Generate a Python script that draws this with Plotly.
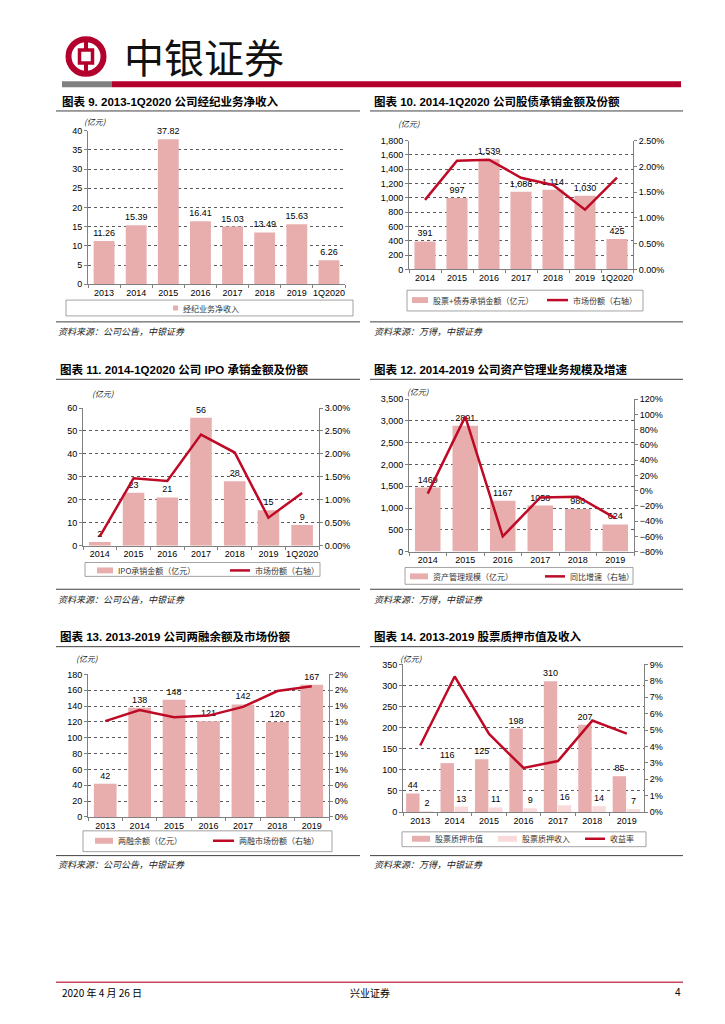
import plotly.graph_objects as go

# ---------------- data ----------------
c9_cats = ["2013", "2014", "2015", "2016", "2017", "2018", "2019", "1Q2020"]
c9_income = [11.26, 15.39, 37.82, 16.41, 15.03, 13.49, 15.63, 6.26]

c10_cats = ["2014", "2015", "2016", "2017", "2018", "2019", "1Q2020"]
c10_amount = [391, 997, 1539, 1086, 1114, 1030, 425]
c10_share = [0.0135, 0.0211, 0.0213, 0.0178, 0.0164, 0.0116, 0.0178]

c11_cats = ["2014", "2015", "2016", "2017", "2018", "2019", "1Q2020"]
c11_ipo = [1.6, 23.1, 21.0, 55.8, 28.1, 15.4, 9.0]
c11_share = [0.0020, 0.0147, 0.0141, 0.0242, 0.0203, 0.0061, 0.0115]

c12_cats = ["2014", "2015", "2016", "2017", "2018", "2019"]
c12_aum = [1469, 2891, 1167, 1058, 980, 624]
c12_growth = [-0.04, 0.97, -0.60, -0.09, -0.08, -0.36]

c13_cats = ["2013", "2014", "2015", "2016", "2017", "2018", "2019"]
c13_balance = [42, 138, 148, 121, 142, 120, 167]
c13_share = [0.0121, 0.0135, 0.0126, 0.0128, 0.0139, 0.0159, 0.0165]

c14_cats = ["2013", "2014", "2015", "2016", "2017", "2018", "2019"]
c14_value = [44, 116, 125, 198, 310, 207, 85]
c14_income = [2, 13, 11, 9, 16, 14, 7]
c14_yield = [0.0406, 0.0827, 0.0476, 0.0269, 0.0311, 0.0558, 0.0478]

titles = [
    "图表 9. 2013-1Q2020 公司经纪业务净收入",
    "图表 10. 2014-1Q2020 公司股债承销金额及份额",
    "图表 11. 2014-1Q2020 公司 IPO 承销金额及份额",
    "图表 12. 2014-2019 公司资产管理业务规模及增速",
    "图表 13. 2013-2019 公司两融余额及市场份额",
    "图表 14. 2013-2019 股票质押市值及收入",
]
sources = [
    "资料来源：公司公告，中银证券",
    "资料来源：万得，中银证券",
    "资料来源：公司公告，中银证券",
    "资料来源：万得，中银证券",
    "资料来源：公司公告，中银证券",
    "资料来源：万得，中银证券",
]

# ---------------- style ----------------
W, H = 725, 1024
def fx(x): return x / W
def fy(y): return 1 - y / H

FONT = "Liberation Sans, Arial, Noto Sans CJK SC, sans-serif"
CJK = "Noto Sans CJK SC, Liberation Sans, sans-serif"
BAR = "#E8AEAE"
BAR_LIGHT = "#F8DADA"
LINE = "#BE0A26"
AX = "#808080"
GRID = "#5a5a5a"
RED = "#B3002D"

fig = go.Figure()
layout = {}

def set_axes(i, box, yrange, ydtick, yfmt, y2=None):
    x0, x1, y0, y1 = box
    tf = dict(size=9, color="#000", family=FONT)
    layout[f"xaxis{i}"] = dict(domain=[fx(x0), fx(x1)], anchor=f"y{i}", type="category",
                               showline=True, linecolor=AX, linewidth=1, ticks="outside",
                               tickson="boundaries", ticklen=3, tickcolor=AX, tickfont=tf,
                               tickangle=0, showgrid=False, fixedrange=True)
    layout[f"yaxis{i}"] = dict(domain=[fy(y1), fy(y0)], anchor=f"x{i}", range=yrange,
                               dtick=ydtick, tick0=0, tickformat=yfmt, showline=True,
                               linecolor=AX, ticks="outside", ticklen=3, tickcolor=AX,
                               showgrid=True, gridcolor=GRID, griddash="dot", gridwidth=1,
                               zeroline=False, tickfont=tf, fixedrange=True)
    if y2:
        r, d, f = y2
        layout[f"yaxis{10 + i}"] = dict(overlaying=f"y{i}", side="right", anchor=f"x{i}",
                                        range=r, dtick=d, tick0=r[0], tickformat=f,
                                        showline=True, linecolor=AX, ticks="outside",
                                        ticklen=3, tickcolor=AX, showgrid=False,
                                        zeroline=False, tickfont=tf, fixedrange=True)

def bar(i, cats, vals, name, fmt, width, color=BAR, offset=None):
    kw = {}
    if offset is not None:
        kw["offset"] = offset
    fig.add_trace(go.Bar(x=cats, y=vals, name=name, xaxis=f"x{i}", yaxis=f"y{i}",
                         marker=dict(color=color, line=dict(width=0)), width=width,
                         texttemplate=fmt, textposition="outside", constraintext="none",
                         textfont=dict(size=9, color="#000", family=FONT), cliponaxis=False,
                         showlegend=False, **kw))

def line(i, cats, vals, name):
    fig.add_trace(go.Scatter(x=cats, y=vals, name=name, xaxis=f"x{i}", yaxis=f"y{10 + i}",
                             mode="lines", line=dict(color=LINE, width=2.5),
                             showlegend=False, cliponaxis=False))

# chart 9
set_axes(1, (88, 345, 127, 282), [0, 40], 5, "d")
bar(1, c9_cats, c9_income, "经纪业务净收入", "%{y:.2f}", 0.65)

# chart 10
set_axes(2, (409, 633, 137, 267), [0, 1800], 200, ",", ([0, 0.025], 0.005, ".2%"))
bar(2, c10_cats, c10_amount, "股票+债券承销金额（亿元）", "%{y:,}", 0.66)
line(2, c10_cats, c10_share, "市场份额（右轴）")

# chart 11
set_axes(3, (83, 319, 407, 546), [0, 60], 10, "d", ([0, 0.03], 0.005, ".2%"))
bar(3, c11_cats, c11_ipo, "IPO承销金额（亿元）", "%{y:.0f}", 0.64)
line(3, c11_cats, c11_share, "市场份额（右轴）")

# chart 12
set_axes(4, (409, 634, 398, 552), [0, 3500], 500, ",", ([-0.8, 1.2], 0.2, ".0%"))
bar(4, c12_cats, c12_aum, "资产管理规模（亿元）", "%{y:d}", 0.68)
line(4, c12_cats, c12_growth, "同比增速（右轴）")

# chart 13
set_axes(5, (88, 329, 676, 820), [0, 180], 20, "d", ([0, 0.018], 0.002, ".0%"))
bar(5, c13_cats, c13_balance, "两融余额（亿元）", "%{y:d}", 0.66)
line(5, c13_cats, c13_share, "两融市场份额（右轴）")

# chart 14
set_axes(6, (403, 644, 666, 815), [0, 350], 50, "d", ([0, 0.09], 0.01, ".0%"))
bar(6, c14_cats, c14_value, "股票质押市值", "%{y:d}", 0.39, offset=-0.41)
bar(6, c14_cats, c14_income, "股票质押收入", "%{y:d}", 0.39, color=BAR_LIGHT, offset=0.0)
line(6, c14_cats, c14_yield, "收益率")

# ---------------- shapes ----------------
shapes = []
def rect(x0, y0, x1, y1, fill=None, line_color=None, lw=0):
    shapes.append(dict(type="rect", xref="paper", yref="paper", x0=fx(x0), x1=fx(x1),
                       y0=fy(y0), y1=fy(y1), fillcolor=fill if fill else "rgba(0,0,0,0)",
                       line=dict(color=line_color if line_color else "rgba(0,0,0,0)", width=lw)))
def hline(x0, x1, y, color, lw):
    shapes.append(dict(type="line", xref="paper", yref="paper", x0=fx(x0), x1=fx(x1),
                       y0=fy(y), y1=fy(y), line=dict(color=color, width=lw)))

# logo
shapes.append(dict(type="circle", xref="paper", yref="paper", x0=fx(68.5), x1=fx(103.5),
                   y0=fy(69.5), y1=fy(34.5), line=dict(color=RED, width=6)))
rect(79.5, 45.5, 92.5, 58.5, line_color=RED, lw=3.5)
shapes.append(dict(type="line", xref="paper", yref="paper", x0=fx(86), x1=fx(86), y0=fy(34), y1=fy(45),
                   line=dict(color=RED, width=4)))
shapes.append(dict(type="line", xref="paper", yref="paper", x0=fx(86), x1=fx(86), y0=fy(59), y1=fy(70),
                   line=dict(color=RED, width=4)))
# header bar
rect(62, 77, 112, 83, fill="#808080")
rect(112, 77, 681, 83, fill=RED)

cols = [(56, 360), (370, 683)]
for y in (107, 378, 648):
    for a, b in cols:
        hline(a, b, y, "#404040", 1)
for y in (320, 590, 859):
    for a, b in cols:
        hline(a, b, y, "#404040", 1)

legend_boxes = [(66, 298, 353, 314), (407, 288, 643, 309), (85, 563, 320, 577),
                (405, 568, 633, 585), (83, 834, 332, 855), (402, 835, 646, 850)]
for (a, b, c, d) in legend_boxes:
    rect(a, b, c, d, line_color="#8c8c8c", lw=0.8)

hline(56, 683, 987, "#C8485E", 1.5)

# ---------------- annotations ----------------
ann = []
def text(x, y, s, size, xanchor="left", family=FONT, color="#000"):
    ann.append(dict(xref="paper", yref="paper", x=fx(x), y=fy(y), text=s, showarrow=False,
                    xanchor=xanchor, yanchor="middle", font=dict(size=size, family=family, color=color)))

# legend keys: (kind, x0, x1, y, label)
legend_keys = [
    ("bar", 173, 178, 306, "经纪业务净收入"),
    ("bar", 412, 428, 298, "股票+债券承销金额（亿元）"),
    ("line", 547, 568, 298, "市场份额（右轴）"),
    ("bar", 97, 113, 571, "IPO承销金额（亿元）"),
    ("line", 230, 250, 571, "市场份额（右轴）"),
    ("bar", 410, 428, 577, "资产管理规模（亿元）"),
    ("line", 545, 565, 577, "同比增速（右轴）"),
    ("bar", 95, 113, 844, "两融余额（亿元）"),
    ("line", 213, 234, 844, "两融市场份额（右轴）"),
    ("bar", 412, 430, 842, "股票质押市值"),
    ("light", 498, 517, 842, "股票质押收入"),
    ("line", 585, 605, 842, "收益率"),
]
for kind, a, b, y, lab in legend_keys:
    if kind == "line":
        hline(a, b, y, LINE, 2.5)
    else:
        hh = 2.5 if (b - a) < 8 else 3
        rect(a, y - hh, b, y + hh, fill=BAR if kind == "bar" else BAR_LIGHT)
    text(b + 3, y, lab, 8, family=CJK, color="#333")

text(122, 52, "中银证券", 40, family=CJK, color="#111")
title_pos = [(60, 97), (372, 97), (58, 368), (372, 368), (58, 638), (372, 638)]
for (x, y), t in zip(title_pos, titles):
    text(x, y, f"<b>{t}</b>", 11.5, family="Liberation Sans, Noto Sans CJK SC, sans-serif")
src_pos = [(56, 330), (372, 330), (56, 600), (372, 600), (56, 868), (372, 868)]
for (x, y), s in zip(src_pos, sources):
    text(x, y, f"<i>{s}</i>", 9, family=CJK, color="#222")
unit_pos = [(82, 118), (396, 120), (90, 392), (405, 390), (74, 660), (398, 660)]
for (x, y) in unit_pos:
    text(x, y, "<i>(亿元)</i>", 8, family=CJK, color="#222")

text(60, 997, "2020 年 4 月 26 日", 10, family=CJK)
text(370, 997, "兴业证券", 10, xanchor="center", family=CJK)
text(683, 997, "4", 10, xanchor="right")

layout.update(dict(width=W, height=H, margin=dict(l=0, r=0, t=0, b=0),
                   paper_bgcolor="white", plot_bgcolor="white", barmode="group",
                   font=dict(family=FONT, size=9, color="#000"),
                   shapes=shapes, annotations=ann, showlegend=False))
fig.update_layout(**layout)

fig.write_html("out.html", config={"displayModeBar": False, "staticPlot": True},
               post_script="document.body.style.margin='0px';")
